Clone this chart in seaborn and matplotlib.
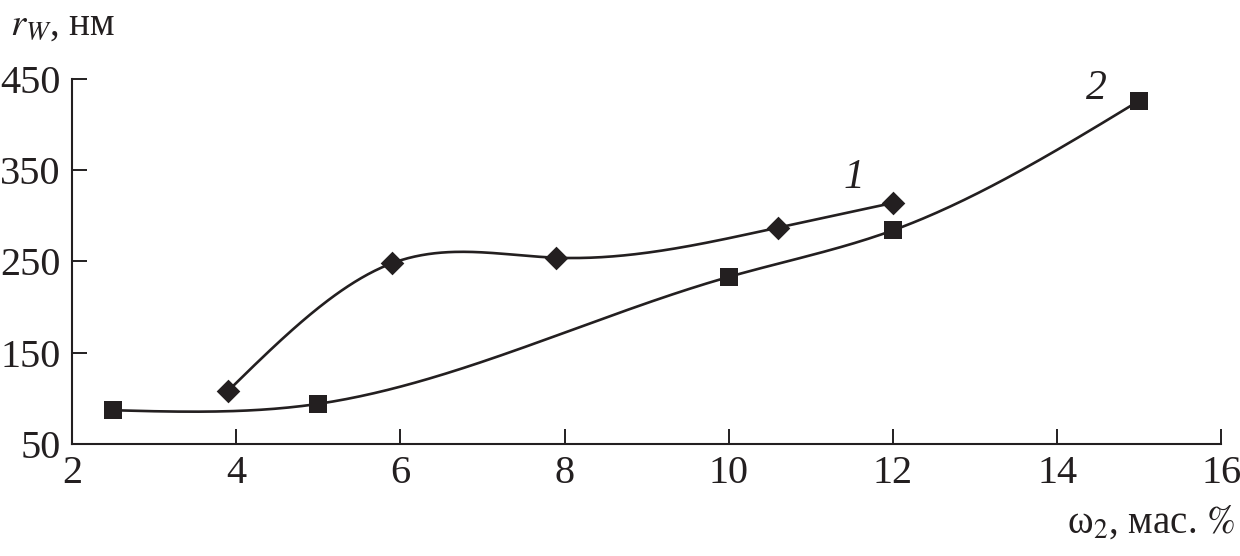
import numpy as np
import pandas as pd
import seaborn as sns
from matplotlib import pyplot as plt

# data
w_1 = [3.9, 5.9, 7.9, 10.6, 12.0]
r_1 = [108, 248, 254, 287, 314]
w_2 = [2.5, 5.0, 10.0, 12.0, 15.0]
r_2 = [87, 94, 233, 284, 426]
x_ticks = [2, 4, 6, 8, 10, 12, 14, 16]
y_ticks = [50, 150, 250, 350, 450]


def natural_spline(x, y, n=300):
    # smooth curve through the points, like the drawn one
    x = np.asarray(x, float)
    y = np.asarray(y, float)
    k = len(x)
    h = np.diff(x)
    A = np.zeros((k, k))
    b = np.zeros(k)
    A[0, 0] = A[-1, -1] = 1
    for i in range(1, k - 1):
        A[i, i - 1] = h[i - 1]
        A[i, i] = 2 * (h[i - 1] + h[i])
        A[i, i + 1] = h[i]
        b[i] = 6 * ((y[i + 1] - y[i]) / h[i] - (y[i] - y[i - 1]) / h[i - 1])
    M = np.linalg.solve(A, b)
    xs = np.linspace(x[0], x[-1], n)
    idx = np.clip(np.searchsorted(x, xs) - 1, 0, k - 2)
    x0, x1 = x[idx], x[idx + 1]
    hh = x1 - x0
    ys = (M[idx] * (x1 - xs) ** 3 / (6 * hh) + M[idx + 1] * (xs - x0) ** 3 / (6 * hh)
          + (y[idx] / hh - M[idx] * hh / 6) * (x1 - xs)
          + (y[idx + 1] / hh - M[idx + 1] * hh / 6) * (xs - x0))
    return xs, ys


sns.set_theme(style="white")
plt.rcParams["font.family"] = ["Liberation Serif", "DejaVu Serif"]
plt.rcParams["mathtext.fontset"] = "stix"

fig = plt.figure(figsize=(12.4, 5.56), dpi=100)
ax = fig.add_axes([0.058, 0.2014, 0.927, 0.657])

for xs, ys, marker, size in [(w_1, r_1, "D", 145), (w_2, r_2, "s", 150)]:
    cx, cy = natural_spline(xs, ys)
    ax.plot(cx, cy, color="#231f20", lw=1.9, zorder=2)
    sns.scatterplot(x=xs, y=ys, marker=marker, s=size, color="#231f20",
                    edgecolor="#231f20", linewidth=0, ax=ax, zorder=3)

ax.set_xlim(2, 16)
ax.set_ylim(50, 450)
ax.set_xticks(x_ticks)
ax.set_yticks(y_ticks)
ax.tick_params(direction="in", length=11, width=1.4, labelsize=29,
               colors="#231f20", pad=8, bottom=True, left=True)
for side in ["top", "right"]:
    ax.spines[side].set_visible(False)
for side in ["left", "bottom"]:
    ax.spines[side].set_linewidth(1.5)
    ax.spines[side].set_color("#231f20")

ax.text(11.4, 330, "1", fontsize=30, style="italic", color="#231f20")
ax.text(14.35, 428, "2", fontsize=30, style="italic", color="#231f20")

fig.text(0.008, 0.955, r"$r_W$, нм", fontsize=28, color="#231f20", va="center")
fig.text(0.996, 0.06, r"ω$_2$, мас. $\mathit{\%}$", fontsize=28, color="#231f20",
         ha="right", va="center")

fig.savefig("out.png", dpi=100)
